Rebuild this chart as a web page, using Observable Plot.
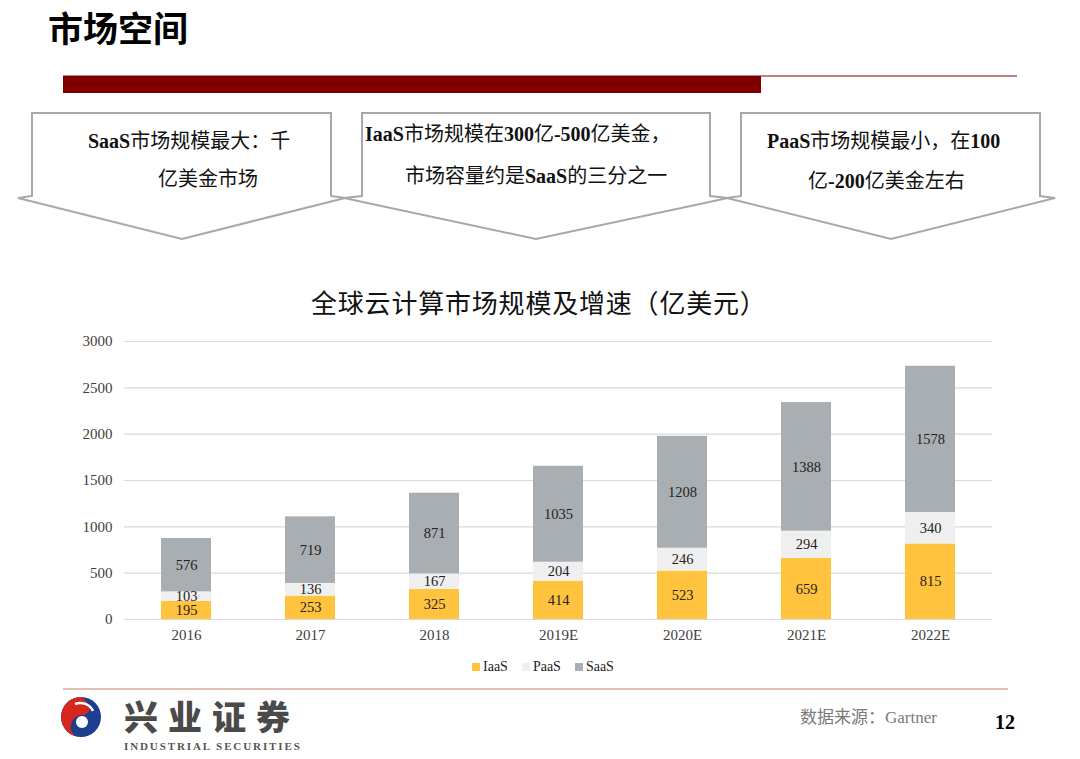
<!DOCTYPE html>
<html>
<head>
<meta charset="utf-8">
<script src="https://cdn.jsdelivr.net/npm/d3@7"></script>
<script src="https://cdn.jsdelivr.net/npm/@observablehq/plot@0.6"></script>
<style>
  html, body { margin: 0; padding: 0; background: #fff; }
  #page { position: relative; width: 1080px; height: 759px; overflow: hidden; font-family: "Liberation Serif", "Noto Sans CJK SC", serif; }
  .abs { position: absolute; white-space: nowrap; }
  .box { font-size: 20px; line-height: 22px; color: #111; }
  .box b { font-family: "Liberation Serif", serif; font-weight: bold; }
  .cjk { font-family: "Noto Sans CJK SC", sans-serif; }
  #legend span.sw { display: inline-block; width: 8px; height: 8px; margin-right: 3px; vertical-align: 0px; }
  #legend span.it { margin-right: 14px; }
</style>
</head>
<body>
<div id="page">
  <svg class="abs" style="left:0;top:0" width="1080" height="759">
    <!-- header bar -->
    <line x1="63" y1="76" x2="1017" y2="76" stroke="#A45A5A" stroke-width="1.5"/>
    <rect x="63" y="76" width="698" height="17" fill="#800000"/>
    <!-- arrow callouts -->
    <g fill="#fff" stroke="#A8A8A8" stroke-width="2" stroke-linejoin="miter">
      <polygon points="32,113 331,113 331,196 345,198 182,239 18,198 32,196"/>
      <polygon points="362,113 710,113 710,196 728,198 536,239 344,198 362,196"/>
      <polygon points="741,113 1040,113 1040,196 1055,198 891,239 727,198 741,196"/>
    </g>
    <!-- footer line -->
    <line x1="63" y1="689" x2="1008" y2="689" stroke="#D9A89F" stroke-width="1.5"/>
    <!-- logo -->
    <g transform="translate(81,717)">
      <circle r="20" fill="#1E3F8F"/>
      <path d="M0,-20 A20,20 0 0,0 -6,19 A12,12 0 0,1 0,-2 A9,9 0 0,0 9,-8 A20,20 0 0,0 0,-20Z" fill="#D7261E"/>
      <circle cx="1" cy="5" r="6" fill="#fff"/>
      <path d="M-6,-13 A14,14 0 0,1 12,-6" stroke="#fff" stroke-width="2.5" fill="none"/>
    </g>
  </svg>

  <div class="abs cjk" style="left:48px;top:6px;font-size:35px;line-height:42px;font-weight:bold;color:#000;">市场空间</div>

  <div class="abs box" style="left:88px;top:129px;"><b>SaaS</b><span class="cjk">市场规模最大：千</span></div>
  <div class="abs box" style="left:158px;top:167px;"><span class="cjk">亿美金市场</span></div>
  <div class="abs box" style="left:365px;top:122px;"><b>IaaS</b><span class="cjk">市场规模在</span><b>300</b><span class="cjk">亿</span><b>-500</b><span class="cjk">亿美金，</span></div>
  <div class="abs box" style="left:405px;top:164px;"><span class="cjk">市场容量约是</span><b>SaaS</b><span class="cjk">的三分之一</span></div>
  <div class="abs box" style="left:767px;top:129px;"><b>PaaS</b><span class="cjk">市场规模最小，在</span><b>100</b></div>
  <div class="abs box" style="left:808px;top:169px;"><span class="cjk">亿</span><b>-200</b><span class="cjk">亿美金左右</span></div>

  <div class="abs cjk" style="left:311px;top:287px;font-size:26px;line-height:30px;letter-spacing:0.8px;color:#111;">全球云计算市场规模及增速（亿美元）</div>

  <div id="chart" class="abs" style="left:0;top:330px;"></div>

  <div id="legend" class="abs" style="left:472px;top:659px;font-size:14px;line-height:16px;color:#222;"></div>

  <div class="abs" style="left:124px;top:701px;font-family:'Noto Sans CJK SC';font-weight:900;font-size:34px;line-height:30px;letter-spacing:10px;color:#4a4a4a;">兴业证券</div>
  <div class="abs" style="left:124px;top:741px;font-family:'Liberation Serif';font-weight:bold;font-size:11px;line-height:11px;letter-spacing:1.9px;color:#555;">INDUSTRIAL SECURITIES</div>

  <div class="abs" style="left:800px;top:705px;font-size:17px;line-height:22px;color:#7a7a7a;"><span class="cjk">数据来源：</span>Gartner</div>
  <div class="abs" style="left:995px;top:710px;font-size:20px;line-height:24px;font-weight:bold;color:#000;font-family:'Liberation Serif';">12</div>
</div>

<script>
const years = ["2016", "2017", "2018", "2019E", "2020E", "2021E", "2022E"];
const seriesNames = ["IaaS", "PaaS", "SaaS"];
const iaas = [195, 253, 325, 414, 523, 659, 815];
const paas = [103, 136, 167, 204, 246, 294, 340];
const saas = [576, 719, 871, 1035, 1208, 1388, 1578];
const yTicks = [0, 500, 1000, 1500, 2000, 2500, 3000];
const colors = ["#FFC33D", "#EFEFEF", "#A9AEB3"];

const seriesValues = {IaaS: iaas, PaaS: paas, SaaS: saas};
const rows = [];
years.forEach((yr, i) => {
  seriesNames.forEach(s => rows.push({year: yr, series: s, value: seriesValues[s][i]}));
});

const chart = Plot.plot({
  width: 1080,
  height: 320,
  marginLeft: 124,
  marginRight: 88,
  marginTop: 11,
  marginBottom: 31,
  style: {fontFamily: "'Liberation Serif', serif", fontSize: "15px", color: "#404040", background: "transparent"},
  x: {domain: years, paddingInner: 0.6, paddingOuter: 0.3, label: null, tickSize: 0, tickPadding: 10},
  y: {domain: [0, 3000], ticks: yTicks, tickFormat: d => String(d), label: null, tickSize: 0, tickPadding: 12},
  color: {domain: seriesNames, range: colors},
  marks: [
    Plot.ruleY(yTicks, {stroke: "#D9D9D9", strokeWidth: 1.2}),
    Plot.barY(rows, Plot.stackY({x: "year", y: "value", z: "series", fill: "series", order: seriesNames})),
    Plot.text(rows, Plot.stackY({x: "year", y: "value", z: "series", text: d => String(d.value), order: seriesNames, fill: "#222", fontSize: 14.5}))
  ]
});
document.getElementById("chart").appendChild(chart);

const legend = document.getElementById("legend");
seriesNames.forEach((s, i) => {
  const sw = document.createElement("span");
  sw.className = "sw";
  sw.style.background = colors[i];
  const t = document.createElement("span");
  t.className = "it";
  t.textContent = s;
  legend.appendChild(sw);
  legend.appendChild(t);
});
</script>
</body>
</html>
